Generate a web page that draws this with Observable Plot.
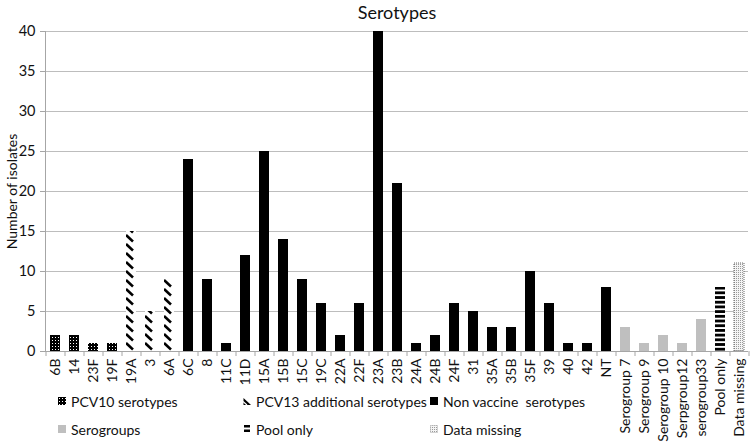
<!DOCTYPE html>
<html>
<head>
<meta charset="utf-8">
<script src="https://cdn.jsdelivr.net/npm/d3@7"></script>
<script src="https://cdn.jsdelivr.net/npm/@observablehq/plot@0.6"></script>
<style>
  html, body { margin: 0; padding: 0; background: #fff; }
  #wrap { position: relative; width: 750px; height: 442px; font-family: Lato, "Open Sans", sans-serif; overflow: hidden; }
  #legend { position: absolute; left: 0; top: 0; width: 750px; height: 442px; pointer-events: none; }
  .li { position: absolute; display: flex; align-items: center; font-size: 14px; color: #111; white-space: pre; }
  .li svg { margin-right: 5px; }
</style>
</head>
<body>
<svg width="0" height="0" style="position:absolute">
  <defs>
    <pattern id="pcv10" patternUnits="userSpaceOnUse" width="3" height="3">
      <rect width="3" height="3" fill="#000"/>
      <rect x="1" y="1" width="1" height="1" fill="#fff"/>
    </pattern>
    <pattern id="pcv13" patternUnits="userSpaceOnUse" width="19" height="9">
      <rect width="19" height="9" fill="#fff"/>
      <path d="M12,1 L19,7.5 M-7,1 L0,7.5" stroke="#000" stroke-width="2.6"/>
    </pattern>
    <pattern id="nonvac" patternUnits="userSpaceOnUse" width="4" height="4">
      <rect width="4" height="4" fill="#000"/>
    </pattern>
    <pattern id="serog" patternUnits="userSpaceOnUse" width="4" height="4">
      <rect width="4" height="4" fill="#bfbfbf"/>
    </pattern>
    <pattern id="pool" patternUnits="userSpaceOnUse" width="4" height="4.7">
      <rect width="4" height="4.7" fill="#fff"/>
      <rect width="4" height="2.8" fill="#000"/>
    </pattern>
    <pattern id="missing" patternUnits="userSpaceOnUse" width="2" height="2">
      <rect width="2" height="2" fill="#f4f4f4"/>
      <rect width="1" height="1" fill="#9a9a9a"/>
    </pattern>
  </defs>
</svg>
<div id="wrap">
  <div id="chart"></div>
  <div id="legend"></div>
</div>
<script>
// ---- data ----
const categories = ["6B","14","23F","19F","19A","3","6A","6C","8","11C","11D","15A","15B","15C","19C","22A","22F","23A","23B","24A","24B","24F","31","35A","35B","35F","39","40","42","NT","Serogroup 7","Serogroup 9","Serogroup 10","Serpgroup12","serogroup33","Pool only","Data missing"];
const counts = [2,2,1,1,15,5,9,24,9,1,12,25,14,9,6,2,6,40,21,1,2,6,5,3,3,10,6,1,1,8,3,1,2,1,4,8,11];
const groups = ["pcv10","pcv10","pcv10","pcv10","pcv13","pcv13","pcv13",
  "nonvac","nonvac","nonvac","nonvac","nonvac","nonvac","nonvac","nonvac","nonvac","nonvac","nonvac","nonvac","nonvac","nonvac","nonvac","nonvac","nonvac","nonvac","nonvac","nonvac","nonvac","nonvac","nonvac",
  "serog","serog","serog","serog","serog","pool","missing"];
const legendKeys = ["pcv10","pcv13","nonvac","serog","pool","missing"];
const legendLabels = ["PCV10 serotypes","PCV13 additional serotypes","Non vaccine  serotypes","Serogroups","Pool only","Data missing"];
const yTicks = [0,5,10,15,20,25,30,35,40];
const title = "Serotypes";
const yLabel = "Number of isolates";

const data = categories.map((c, i) => ({cat: c, value: counts[i], group: groups[i]}));

const W = 750, H = 442, ML = 45, MR = 2, MT = 31, MB = 91;
const step = (W - ML - MR) / categories.length;
const axisGray = "#a6a6a6";

const chart = Plot.plot({
  width: W, height: H,
  marginLeft: ML, marginRight: MR, marginTop: MT, marginBottom: MB,
  style: {fontFamily: "Lato, 'Open Sans', sans-serif", fontSize: "13px", color: "#111", background: "#fff"},
  x: {domain: categories, paddingInner: 0.5, paddingOuter: 0.25, label: null},
  y: {domain: [0, 40], label: null},
  color: {type: "identity"},
  marks: [
    Plot.gridY(yTicks, {stroke: "#bdbdbd", strokeOpacity: 1}),
    Plot.barY(data, {x: "cat", y: "value", fill: d => `url(#${d.group})`,
      stroke: d => d.group === "missing" ? "#666" : "none", strokeWidth: 1, strokeDasharray: "1,1"}),
    Plot.ruleY([0], {stroke: axisGray}),
    Plot.frame({anchor: "left", stroke: axisGray}),
    Plot.axisY({ticks: yTicks, tickSize: 5, tickPadding: 5, stroke: axisGray, fontSize: 14.5, label: null}),
    Plot.axisX({tickSize: 5, tickFormat: () => "", dx: -step / 2, stroke: axisGray, label: null}),
    Plot.axisX({ticks: [categories[categories.length - 1]], tickSize: 5, tickFormat: () => "", dx: step / 2, stroke: axisGray, label: null}),
    Plot.axisX({tickSize: 0, tickPadding: 7, tickRotate: -90, fontSize: 14, label: null}),
    Plot.text([yLabel], {frameAnchor: "left", textAnchor: "middle", lineAnchor: "middle", rotate: -90, dx: -33, fontSize: 14}),
    Plot.text([title], {frameAnchor: "top", textAnchor: "middle", lineAnchor: "middle", dy: -18, fontSize: 18})
  ]
});
document.getElementById("chart").appendChild(chart);

// ---- legend ----
const legendPos = [[58, 401], [243, 401], [430, 401], [58, 429], [243, 429], [430, 429]];
const lg = document.getElementById("legend");
legendKeys.forEach((k, i) => {
  const div = document.createElement("div");
  div.className = "li";
  div.style.left = legendPos[i][0] + "px";
  div.style.top = (legendPos[i][1] - 9) + "px";
  div.style.height = "18px";
  let icon;
  if (k === "pcv13") icon = `<path d="M0.5,1 L8,8 L0.5,8 Z" fill="#000"/><path d="M0,4.5 L4,8" stroke="#fff" stroke-width="1.2"/>`;
  else if (k === "missing") icon = `<rect x="0.5" y="0.5" width="7" height="7" fill="url(#missing)" stroke="#777" stroke-width="0.6" stroke-dasharray="1,1"/>`;
  else if (k === "pool") icon = `<rect x="1" y="0" width="6" height="2.5" fill="#000"/><rect x="1" y="4.5" width="6" height="2.5" fill="#000"/>`;
  else icon = `<rect width="8" height="8" fill="url(#${k})"/>`;
  div.innerHTML = `<svg width="8" height="8">${icon}</svg><span>${legendLabels[i]}</span>`;
  lg.appendChild(div);
});
</script>
</body>
</html>
